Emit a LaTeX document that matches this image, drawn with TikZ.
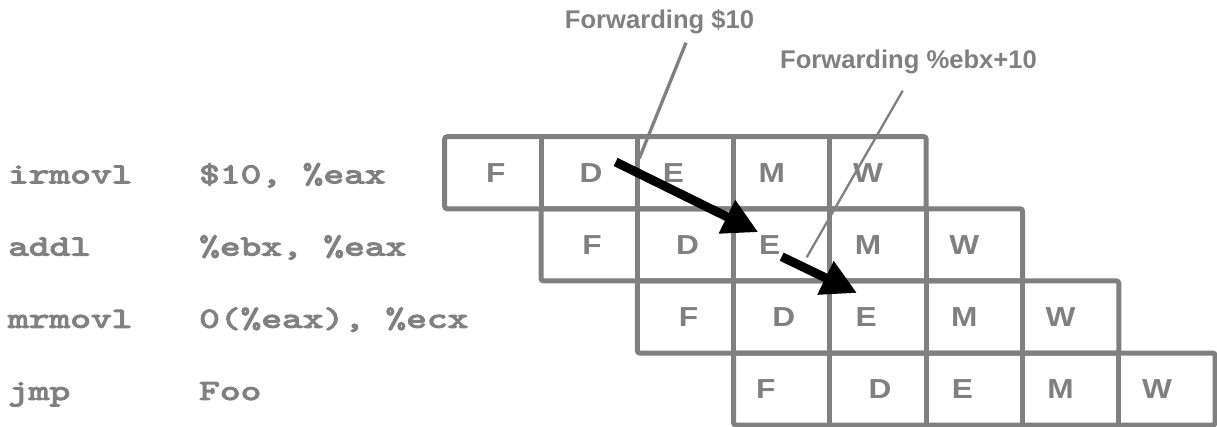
\documentclass[tikz,border=0pt]{standalone}
\usepackage{fontspec}
\usetikzlibrary{arrows.meta}
\newfontfamily\stagefont[FakeStretch=1.15]{Liberation Sans}
\newfontfamily\notefont{Liberation Sans}
\newfontfamily\codefont[FakeBold=4,FakeStretch=1.36]{lmmono10-regular.otf}
\definecolor{pipegray}{RGB}{128,128,128}
\begin{document}
\begin{tikzpicture}[x=1pt,y=-1pt,
  cellrow/.style={draw=pipegray,line width=5pt,rounded corners=2.5pt},
  cellline/.style={draw=pipegray,line width=5pt},
  stage/.style={anchor=base,inner sep=0pt,text=pipegray,
    font=\stagefont\bfseries\fontsize{27.5}{27.5}\selectfont},
  code/.style={anchor=base west,inner sep=0pt,text=pipegray,
    font=\codefont\fontsize{29}{29}\selectfont},
  note/.style={anchor=base,inner sep=0pt,text=pipegray,
    font=\notefont\bfseries\fontsize{25.6}{25.6}\selectfont},
  lead/.style={draw=pipegray,line cap=butt},
  fwd/.style={draw=black,line width=9pt,-{Triangle[length=35pt,width=35pt]}}]
\useasboundingbox (0,0) rectangle (1217,426);

% pipeline rows: five stages each, shifted one cycle per instruction
\foreach \r in {0,1,2,3}{
  \pgfmathsetmacro\xa{444.7+\r*96.3}
  \pgfmathsetmacro\ya{136.7+\r*72.1}
  \draw[cellrow] (\xa,\ya) rectangle ++(481.5,72.1);
  \foreach \c in {1,2,3,4}{
    \draw[cellline] (\xa+\c*96.3,\ya) -- ++(0,72.1);
  }
}

% stage letters
\foreach \r/\df in {0/3,1/3,2/3,3/-16}{
  \foreach \c/\L/\dx in {0/F/\df,1/D/2,2/E/-12,3/M/-10,4/W/-10}{
    \node[stage] (st-\r-\c) at ({444.7+(\r+\c+0.5)*96.3+\dx},{182.65+72.1*\r}) {\L};
  }
}

% instruction listing
\node[code] (op-0) at (8,183.3) {irmovl};
\node[code] (arg-0) at (199,183.3) {\$10, \%eax};
\node[code] (op-1) at (8,255.5) {addl};
\node[code] (arg-1) at (199,255.5) {\%ebx, \%eax};
\node[code] (op-2) at (8,327.7) {mrmovl};
\node[code] (arg-2) at (199,327.7) {0(\%eax), \%ecx};
\node[code] (op-3) at (8,399.9) {jmp};
\node[code] (arg-3) at (199,399.9) {Foo};

% forwarding annotations
\node[note] (lab1) at (659.5,28.3) {Forwarding \$10};
\node[note] (lab2) at (908.5,68) {Forwarding \%ebx+10};
\coordinate (lead1-top) at (686,42.7);
\coordinate (lead1-end) at (639.3,158.3);
\coordinate (lead2-top) at (902.7,90.7);
\coordinate (lead2-end) at (806.7,257.3);
\draw[lead,line width=3.3pt] (lead1-top) -- (lead1-end);
\draw[lead,line width=2.3pt] (lead2-top) -- (lead2-end);

% forwarding paths
\coordinate (fw1-from) at (615.7,162);
\coordinate (fw1-to) at (758.3,232.2);
\coordinate (fw2-from) at (781.7,256.7);
\coordinate (fw2-to) at (857,293);
\draw[fwd] (fw1-from) -- (fw1-to);
\draw[fwd] (fw2-from) -- (fw2-to);
\end{tikzpicture}
\end{document}
